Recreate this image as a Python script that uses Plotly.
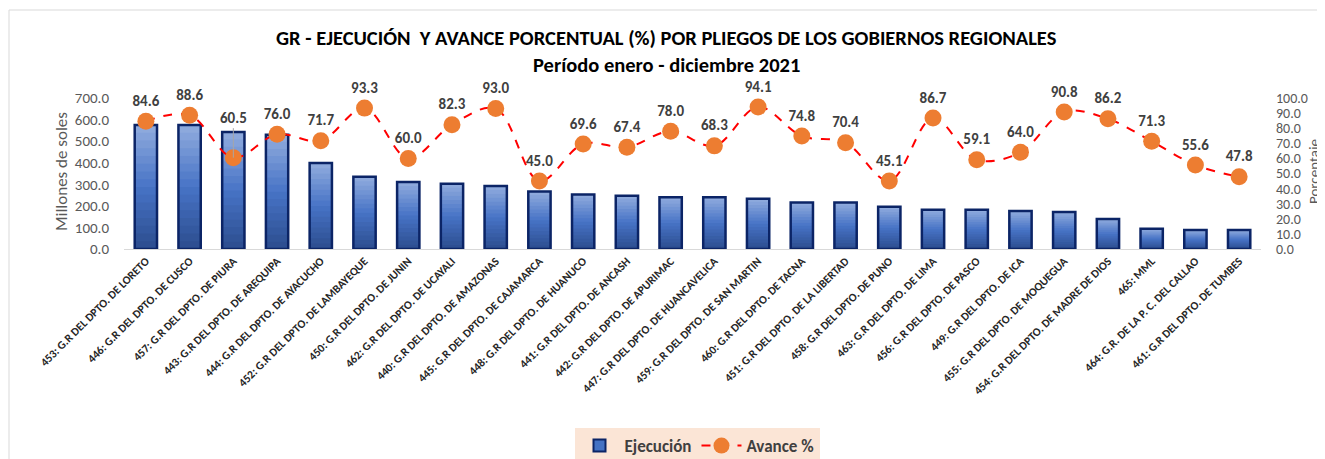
import plotly.graph_objects as go

categories = [
    "453: G.R DEL DPTO. DE LORETO",
    "446: G.R DEL DPTO. DE CUSCO",
    "457: G.R DEL DPTO. DE PIURA",
    "443: G.R DEL DPTO. DE AREQUIPA",
    "444: G.R DEL DPTO. DE AYACUCHO",
    "452: G.R DEL DPTO. DE LAMBAYEQUE",
    "450: G.R DEL DPTO. DE JUNIN",
    "462: G.R DEL DPTO. DE UCAYALI",
    "440: G.R DEL DPTO. DE AMAZONAS",
    "445: G.R DEL DPTO. DE CAJAMARCA",
    "448: G.R DEL DPTO. DE HUANUCO",
    "441: G.R DEL DPTO. DE ANCASH",
    "442: G.R DEL DPTO. DE APURIMAC",
    "447: G.R DEL DPTO. DE HUANCAVELICA",
    "459: G.R DEL DPTO. DE SAN MARTIN",
    "460: G.R DEL DPTO. DE TACNA",
    "451: G.R DEL DPTO. DE LA LIBERTAD",
    "458: G.R DEL DPTO. DE PUNO",
    "463: G.R DEL DPTO. DE LIMA",
    "456: G.R DEL DPTO. DE PASCO",
    "449: G.R DEL DPTO. DE ICA",
    "455: G.R DEL DPTO. DE MOQUEGUA",
    "454: G.R DEL DPTO. DE MADRE DE DIOS",
    "465: MML",
    "464: G.R. DE LA P. C. DEL CALLAO",
    "461: G.R DEL DPTO. DE TUMBES",
]
ejecucion = [575, 575, 542, 530, 399, 335, 311, 303, 292, 266, 253, 247, 240, 240,
             233, 215, 215, 196, 182, 182, 176, 171, 139, 94, 88, 88]
avance = [84.6, 88.6, 60.5, 76.0, 71.7, 93.3, 60.0, 82.3, 93.0, 45.0, 69.6, 67.4, 78.0,
          68.3, 94.1, 74.8, 70.4, 45.1, 86.7, 59.1, 64.0, 90.8, 86.2, 71.3, 55.6, 47.8]
y_ticks = [0, 100, 200, 300, 400, 500, 600, 700]
y2_ticks = [0, 10, 20, 30, 40, 50, 60, 70, 80, 90, 100]
# labels that the original moved up, with a leader line (category names)
raised_labels = ["457: G.R DEL DPTO. DE PIURA"]

FONT = "Carlito, Calibri, Lato, sans-serif"
GRAY = "#595959"
DARK = "#404040"

# the page body adds an 8px offset; size the figure to the visible window
OFF = 8
W, H = 1325 - OFF, 459 - OFF
L = 124 - OFF
T = 98 - OFF
B = H - (249 - OFF)
R = W - (1261 - OFF)
PW, PH = W - L - R, H - T - B


def px(x):
    """reference-screenshot x -> paper coordinate"""
    return (x - OFF - L) / PW


def py(y):
    """reference-screenshot y -> paper coordinate"""
    return (H - B - (y - OFF)) / PH


fig = go.Figure()

# gradient bars: each slice runs from its start to the top, drawn bottom-up
N = 16
top_c = (0x92, 0xAD, 0xDE)
mid_c = (0x47, 0x73, 0xC6)
bot_c = (0x2C, 0x4D, 0x8E)


def lerp(a, b, t):
    return tuple(int(round(a[i] + (b[i] - a[i]) * t)) for i in range(3))


for k in range(N):
    t = (k + 0.5) / N
    if t < 0.5:
        c = lerp(bot_c, mid_c, t / 0.5)
    else:
        c = lerp(mid_c, top_c, (t - 0.5) / 0.5)
    fig.add_trace(go.Bar(
        x=categories,
        y=[v * (N - k) / N for v in ejecucion],
        base=[v * k / N for v in ejecucion],
        marker=dict(color="rgb(%d,%d,%d)" % c, line=dict(width=0)),
        showlegend=False, hoverinfo="skip",
    ))

# outline
fig.add_trace(go.Bar(
    x=categories, y=ejecucion,
    marker=dict(color="rgba(0,0,0,0)", line=dict(color="#0b2466", width=2.5)),
    showlegend=False, name="Ejecución",
))
# legend entry
fig.add_trace(go.Bar(
    x=[categories[0]], y=[None], name="Ejecución",
    marker=dict(color="#4472c4", line=dict(color="#0b2466", width=2)),
))

fig.add_trace(go.Scatter(
    x=categories, y=avance, yaxis="y2", name="Avance %",
    mode="lines+markers+text",
    line=dict(color="#ff0000", width=2, dash="dash", shape="spline"),
    marker=dict(color="#ed7d31", size=17),
    text=["" if c in raised_labels else "%.1f" % v for c, v in zip(categories, avance)],
    textposition="top center",
    textfont=dict(family=FONT, size=15, color=DARK, weight="bold"),
    cliponaxis=False,
))

annotations = [
    dict(text="<b>GR - EJECUCIÓN  Y AVANCE PORCENTUAL (%) POR PLIEGOS DE LOS GOBIERNOS REGIONALES</b>",
         xref="paper", yref="paper", x=px(666), y=py(38),
         xanchor="center", yanchor="middle", showarrow=False,
         font=dict(family=FONT, size=20.5, color="black")),
    dict(text="<b>Período enero - diciembre 2021</b>",
         xref="paper", yref="paper", x=px(666), y=py(65),
         xanchor="center", yanchor="middle", showarrow=False,
         font=dict(family=FONT, size=20.5, color="black")),
    dict(text="Millones de soles", textangle=-90,
         xref="paper", yref="paper", x=px(61), y=py(172),
         xanchor="center", yanchor="middle", showarrow=False,
         font=dict(family=FONT, size=17, color=GRAY)),
    dict(text="Porcentaje", textangle=-90,
         xref="paper", yref="paper", x=px(1314), y=py(172),
         xanchor="center", yanchor="middle", showarrow=False,
         font=dict(family=FONT, size=15, color=GRAY)),
]
for c, v in zip(categories, avance):
    if c in raised_labels:
        annotations.append(dict(
            x=c, y=v, xref="x", yref="y2", text="<b>%.1f</b>" % v,
            showarrow=True, arrowhead=0, arrowwidth=1, arrowcolor="#a6a6a6",
            ax=0, ay=-40, standoff=0,
            font=dict(family=FONT, size=15, color=DARK),
        ))

fig.update_layout(
    width=W, height=H,
    margin=dict(l=L, r=R, t=T, b=B, autoexpand=False),
    paper_bgcolor="white", plot_bgcolor="white",
    barmode="overlay", bargap=0.49,
    font=dict(family=FONT, color=GRAY),
    showlegend=True,
    legend=dict(
        orientation="h", x=px(697), xanchor="center", y=py(428), yanchor="top",
        bgcolor="#fbe5d6", font=dict(size=17, color=DARK, weight="bold"),
        itemwidth=40, traceorder="normal",
    ),
    xaxis=dict(
        range=[-0.5, len(categories) - 0.5], automargin=False,
        tickangle=-45, showline=True, linecolor="#d9d9d9", linewidth=1,
        ticks="", tickfont=dict(family=FONT, size=11.5, color="#262626", weight="bold"),
        showgrid=False,
    ),
    yaxis=dict(
        range=[0, 700], tickvals=y_ticks, tickformat=".1f", showgrid=False, zeroline=False,
        automargin=False,
        tickfont=dict(size=15, color=GRAY), ticklabelstandoff=14,
    ),
    yaxis2=dict(
        range=[0, 100], tickvals=y2_ticks, tickformat=".1f", overlaying="y", side="right",
        showgrid=False, zeroline=False, automargin=False,
        tickfont=dict(size=14, color=GRAY), ticklabelstandoff=14,
    ),
    annotations=annotations,
    shapes=[
        dict(type="rect", xref="paper", yref="paper",
             x0=px(9), x1=px(1400), y0=py(520), y1=py(10),
             line=dict(color="#d9d9d9", width=1), fillcolor="rgba(0,0,0,0)", layer="below"),
    ],
)

fig.write_html("out.html")
